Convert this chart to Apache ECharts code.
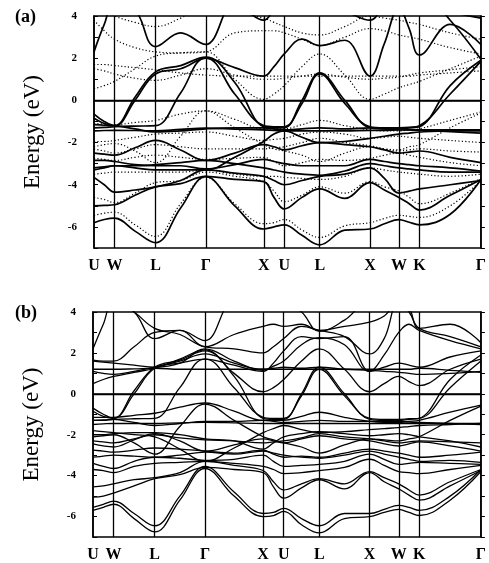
<!DOCTYPE html>
<html>
<head>
<meta charset="utf-8">
<script src="https://cdn.jsdelivr.net/npm/echarts@6.0.0/dist/echarts.min.js"></script>
<style>
  html, body { margin: 0; padding: 0; background: #fff; }
  #main { width: 489px; height: 563px; }
</style>
</head>
<body>
<div id="main"></div>
<script>
// high symmetry points along the k path
var kSym = [0, 0.354, 1.061, 1.927, 2.927, 3.281, 3.893, 4.759, 5.259, 5.613, 6.673];
var kNames = ['U', 'W', 'L', 'Γ', 'X', 'U', 'L', 'X', 'W', 'K', 'Γ'];
// sample points: every symmetry point plus the middle of each segment
var kGrid = [0, 0.177, 0.354, 0.707, 1.061, 1.494, 1.927, 2.427, 2.927, 3.104, 3.281,
             3.587, 3.893, 4.326, 4.759, 5.009, 5.259, 5.436, 5.613, 6.143, 6.673];
var yTicks = [-6, -4, -2, 0, 2, 4];

// (a) solid bands, energies (eV) at kGrid
var aSolid = [
  [-5.8, -5.65, -5.58, -6.2, -6.75, -5.1, -3.62, -5.0, -6.1, -6.0, -5.9, -6.4, -6.85, -6.15, -6.1, -5.85, -5.65, -5.78, -5.9, -5.4, -3.75],
  [-5.0, -4.98, -4.95, -4.5, -4.1, -3.95, -3.6, -3.75, -3.85, -4.6, -5.15, -4.6, -4.2, -4.65, -3.9, -4.25, -4.6, -4.9, -5.2, -4.5, -3.75],
  [-3.65, -4.0, -4.35, -4.25, -4.1, -3.8, -3.3, -3.45, -3.6, -3.8, -4.0, -3.8, -3.6, -3.5, -3.2, -3.7, -4.4, -4.3, -4.2, -4.0, -3.8],
  [-2.85, -2.85, -2.9, -3.05, -3.1, -3.1, -3.25, -3.05, -2.8, -2.9, -3.0, -3.1, -3.1, -3.1, -2.8, -2.9, -3.0, -3.05, -3.1, -3.2, -3.35],
  [-3.2, -3.15, -3.1, -3.1, -3.05, -2.95, -2.85, -3.0, -3.2, -3.3, -3.4, -3.5, -3.55, -3.35, -3.0, -3.1, -3.2, -3.25, -3.3, -3.4, -3.4],
  [-2.5, -2.55, -2.6, -2.25, -1.9, -2.35, -2.85, -2.5, -2.1, -2.2, -2.35, -2.15, -2.0, -2.1, -2.2, -2.35, -2.5, -2.45, -2.4, -2.7, -2.95],
  [-1.45, -1.43, -1.42, -1.43, -1.45, -1.38, -1.32, -1.36, -1.4, -1.42, -1.45, -1.45, -1.45, -1.45, -1.42, -1.42, -1.4, -1.4, -1.4, -1.4, -1.4],
  [-1.15, -1.18, -1.2, -1.35, -1.5, -1.45, -1.35, -1.3, -1.3, -1.35, -1.4, -1.35, -1.3, -1.35, -1.3, -1.35, -1.38, -1.4, -1.42, -1.48, -1.55],
  [-0.65, -1.0, -1.2, 0.15, 1.35, 1.65, 2.05, 0.85, -1.25, -1.3, -1.3, 0.0, 1.3, 0.0, -1.3, -1.35, -1.35, -1.3, -1.25, 0.7, 1.9],
  [-0.85, -1.1, -1.22, 0.0, 1.25, 1.5, 2.0, 0.3, -1.2, -1.25, -1.25, -0.15, 1.25, -0.15, -1.25, -1.3, -1.3, -1.28, -1.2, 0.3, 1.85],
  [-1.3, -1.28, -1.25, -1.22, -1.2, 0.35, 2.0, 1.55, 1.15, 1.6, 2.2, 2.9, 2.6, 2.85, 1.15, 2.7, 4.4, 3.4, 2.15, 3.6, 2.65],
  [2.3, 3.6, 4.6, 4.3, 2.55, 3.2, 2.65, 4.6, 3.8, 4.3, 4.8, 4.6, 4.3, 4.2, 3.8, 4.5, 4.8, 4.8, 4.6, 4.2, 3.9],
  [5, 5, 5, 5, 5, 5, 5, 5, 5, 5, 5, 5, 5, 5, 5, 5, 5, 5, 5.2, 3.8, 1.95],
  [-3.3, -3.2, -3.1, -3.2, -3.3, -3.3, -3.3, -2.7, -1.95, -1.6, -1.45, -1.75, -2.0, -1.95, -1.8, -1.7, -1.6, -1.55, -1.5, -1.45, -1.45]
];

// (a) dotted bands
var aDotted = [
  [-5.45, -5.35, -5.3, -5.9, -6.45, -4.9, -3.65, -4.9, -5.85, -5.8, -5.65, -6.15, -6.5, -5.95, -5.8, -5.6, -5.45, -5.5, -5.55, -5.0, -3.8],
  [-4.6, -4.7, -4.85, -4.4, -3.9, -3.8, -3.4, -3.6, -3.85, -4.3, -4.8, -4.5, -4.1, -4.4, -3.85, -4.1, -4.3, -4.6, -4.9, -4.4, -3.7],
  [-3.5, -3.45, -3.4, -3.4, -3.4, -3.4, -3.3, -3.5, -3.6, -3.6, -3.65, -3.7, -3.75, -3.6, -3.2, -3.3, -3.4, -3.45, -3.5, -3.6, -3.5],
  [-2.3, -2.4, -2.5, -2.3, -2.1, -2.2, -2.3, -2.3, -2.3, -2.25, -2.2, -2.0, -1.8, -2.0, -2.15, -2.3, -2.4, -2.35, -2.3, -2.4, -2.45],
  [-1.1, -1.12, -1.15, -1.05, -0.95, -0.65, -0.5, -0.9, -1.35, -1.35, -1.35, -1.15, -0.95, -1.2, -1.4, -1.45, -1.45, -1.4, -1.35, -0.95, -0.55],
  [-2.2, -2.1, -2.05, -2.4, -2.95, -1.7, -0.5, -1.3, -2.1, -2.3, -2.4, -2.6, -2.9, -2.5, -2.2, -2.3, -2.35, -2.2, -2.1, -1.3, -0.6],
  [1.7, 1.7, 1.65, 1.55, 1.45, 1.3, 1.2, 1.15, 1.15, 1.15, 1.15, 1.15, 1.15, 1.15, 1.15, 1.15, 1.15, 1.15, 1.2, 1.3, 1.4],
  [1.5, 1.4, 1.25, 1.05, 0.95, 1.2, 1.5, 1.2, 1.0, 1.0, 1.05, 1.15, 1.25, 1.1, 1.0, 1.05, 1.1, 1.2, 1.3, 1.45, 1.6],
  [0.55, 0.7, 0.9, 1.5, 2.1, 2.25, 2.3, 1.0, 0.05, 0.3, 0.7, 1.6, 2.2, 1.2, 0.05, 0.3, 0.6, 0.75, 0.9, 1.5, 2.1],
  [3.8, 3.3, 2.9, 2.5, 2.3, 2.25, 2.3, 3.2, 3.3, 3.3, 3.2, 2.9, 2.6, 3.0, 3.4, 3.3, 3.1, 3.0, 2.9, 2.5, 2.2],
  [4.5, 4.3, 4.0, 3.7, 3.5, 3.9, 4.5, 4.2, 3.9, 3.7, 3.5, 3.2, 3.1, 3.5, 4.0, 3.9, 3.8, 3.7, 3.6, 3.2, 2.9],
  [-1.95, -1.95, -1.9, -1.75, -1.6, -1.55, -1.5, -1.7, -1.9, -1.85, -1.8, -1.6, -1.5, -1.6, -1.8, -1.75, -1.7, -1.75, -1.8, -1.9, -2.0],
  [-2.75, -2.8, -2.85, -2.7, -2.6, -2.7, -2.8, -2.75, -2.7, -2.9, -3.1, -2.95, -2.8, -2.85, -2.75, -2.6, -2.5, -2.6, -2.7, -2.95, -3.1]
];

// (b) bands
var bBands = [
  [-5.7, -5.55, -5.4, -6.1, -6.75, -5.2, -3.65, -5.0, -6.0, -5.95, -5.75, -6.4, -6.8, -6.1, -6.0, -5.8, -5.65, -5.8, -5.95, -5.2, -3.8],
  [-5.55, -5.4, -5.25, -5.85, -6.45, -5.0, -3.55, -4.8, -5.85, -5.8, -5.6, -6.1, -6.45, -5.85, -5.85, -5.65, -5.45, -5.55, -5.7, -5.0, -3.7],
  [-5.05, -5.0, -4.85, -4.5, -4.15, -3.95, -3.6, -3.7, -3.85, -4.55, -5.1, -4.6, -4.2, -4.65, -3.85, -4.3, -4.65, -4.95, -5.2, -4.5, -3.75],
  [-4.55, -4.5, -4.4, -4.2, -4.1, -3.85, -3.3, -3.5, -3.75, -4.3, -4.7, -4.4, -4.15, -4.4, -3.8, -4.1, -4.4, -4.7, -4.95, -4.3, -3.7],
  [-3.7, -3.75, -3.85, -3.55, -3.4, -3.35, -3.3, -3.4, -3.55, -3.7, -3.9, -3.85, -3.75, -3.6, -3.2, -3.5, -3.8, -3.85, -3.9, -3.7, -3.5],
  [-3.4, -3.55, -3.65, -3.3, -3.1, -3.15, -3.25, -3.2, -3.0, -3.3, -3.55, -3.5, -3.45, -3.3, -2.95, -3.2, -3.45, -3.4, -3.35, -3.4, -3.45],
  [-3.1, -3.05, -3.0, -3.05, -3.1, -3.0, -2.85, -2.95, -2.8, -2.9, -3.0, -3.1, -3.15, -3.0, -2.8, -2.95, -3.1, -3.2, -3.3, -3.25, -3.35],
  [-2.75, -2.8, -2.85, -2.75, -2.65, -2.7, -2.8, -2.9, -2.75, -2.95, -3.1, -3.05, -3.1, -2.9, -2.7, -2.8, -2.9, -3.0, -3.1, -3.0, -2.85],
  [-2.45, -2.55, -2.6, -2.25, -1.95, -2.3, -2.8, -2.5, -2.2, -2.3, -2.4, -2.2, -2.05, -2.2, -2.3, -2.45, -2.55, -2.45, -2.35, -2.55, -2.8],
  [-2.3, -2.35, -2.4, -2.2, -2.0, -2.15, -2.25, -2.3, -2.4, -2.35, -2.3, -2.15, -1.95, -2.1, -2.2, -2.3, -2.4, -2.35, -2.3, -2.35, -2.4],
  [-2.0, -2.0, -1.95, -1.9, -1.9, -2.0, -2.2, -2.3, -2.7, -2.4, -2.1, -1.95, -1.85, -1.95, -2.05, -2.0, -1.95, -2.0, -2.1, -2.3, -2.6],
  [-1.8, -1.85, -1.9, -2.0, -2.1, -2.7, -3.3, -2.65, -1.9, -1.7, -1.55, -1.75, -1.9, -1.85, -1.75, -1.7, -1.65, -1.6, -1.55, -1.5, -1.45],
  [-1.5, -1.47, -1.45, -1.45, -1.45, -1.42, -1.4, -1.42, -1.45, -1.45, -1.45, -1.45, -1.45, -1.45, -1.45, -1.45, -1.45, -1.45, -1.45, -1.45, -1.45],
  [-1.3, -1.3, -1.25, -1.4, -1.55, -1.45, -1.35, -1.35, -1.3, -1.35, -1.4, -1.35, -1.3, -1.35, -1.35, -1.35, -1.35, -1.38, -1.4, -1.45, -1.5],
  [-1.15, -1.15, -1.15, -1.05, -0.95, -0.65, -0.45, -0.85, -1.3, -1.3, -1.3, -1.1, -0.9, -1.15, -1.35, -1.4, -1.4, -1.35, -1.3, -0.9, -0.55],
  [-2.1, -2.05, -2.0, -2.4, -2.95, -1.6, -0.5, -1.3, -2.1, -2.25, -2.4, -2.6, -2.9, -2.5, -2.2, -2.25, -2.3, -2.2, -2.1, -1.3, -0.6],
  [-0.7, -1.0, -1.2, 0.15, 1.3, 1.65, 2.1, 0.85, -1.2, -1.25, -1.25, 0.0, 1.3, 0.0, -1.25, -1.3, -1.3, -1.25, -1.2, 0.7, 1.9],
  [-0.85, -1.1, -1.2, 0.0, 1.25, 1.5, 1.7, 0.3, -1.15, -1.2, -1.2, -0.1, 1.2, -0.1, -1.2, -1.25, -1.25, -1.22, -1.2, 0.3, 1.6],
  [-1.3, -1.28, -1.25, -1.22, -1.2, 0.3, 1.7, 1.4, 1.1, 1.5, 2.1, 2.8, 2.7, 2.8, 1.1, 1.9, 3.0, 3.4, 3.1, 2.6, 2.2],
  [4.5, 4.6, 4.6, 4.0, 3.2, 2.9, 2.3, 2.2, 2.0, 2.3, 2.7, 3.3, 3.1, 2.8, 1.95, 2.7, 4.5, 4.2, 3.2, 3.4, 2.5],
  [1.6, 1.55, 1.5, 1.4, 1.3, 1.5, 2.2, 1.6, 1.15, 1.35, 1.6, 2.4, 2.75, 2.4, 1.1, 1.3, 1.5, 1.4, 1.3, 1.8, 2.1],
  [1.2, 1.2, 1.2, 1.22, 1.25, 1.2, 1.2, 1.2, 1.2, 1.2, 1.2, 1.2, 1.2, 1.2, 1.2, 1.2, 1.2, 1.2, 1.25, 1.15, 1.05],
  [0.5, 0.7, 0.85, 1.05, 1.25, 1.7, 2.15, 1.0, 0.1, 0.3, 0.7, 1.6, 2.2, 1.2, 0.1, 0.5, 0.85, 0.6, 0.4, 1.2, 1.7],
  [1.65, 1.6, 1.6, 2.3, 3.0, 3.1, 2.3, 2.9, 3.3, 3.4, 3.3, 3.4, 3.1, 3.3, 3.5, 3.8, 4.5, 4.0, 3.2, 2.8, 2.3],
  [2.2, 3.4, 4.5, 4.0, 2.7, 3.1, 2.6, 4.5, 4.5, 4.5, 4.5, 4.0, 3.05, 3.6, 4.5, 4.5, 4.5, 4.5, 4.5, 4.4, 4.3],
  [1.1, 1.0, 0.95, 1.1, 1.3, 1.6, 1.95, 1.5, 1.2, 1.25, 1.3, 1.25, 1.3, 1.2, 1.15, 1.1, 1.05, 1.0, 0.95, 1.0, 1.1]
];

var serif = 'Liberation Serif, Times New Roman, serif';

function kLabel(v) {
    for (var i = 0; i < kSym.length; i++) {
        if (Math.abs(kSym[i] - v) < 1e-6) return kNames[i];
    }
    return '';
}

function makeX(g) {
    return {
        type: 'value', gridIndex: g, min: 0, max: kSym[kSym.length - 1],
        axisLine: { show: true, lineStyle: { color: '#000', width: 1.5 } },
        axisTick: { show: false },
        splitLine: { show: false },
        axisLabel: {
            customValues: kSym, formatter: kLabel, margin: 10,
            fontFamily: serif, fontWeight: 'bold', fontSize: 16, color: '#000'
        }
    };
}

function makeY(g) {
    return [{
        type: 'value', gridIndex: g, min: -7, max: 4, interval: 1,
        name: 'Energy (eV)', nameLocation: 'middle', nameRotate: 90, nameGap: 50,
        nameTextStyle: { fontFamily: serif, fontSize: 23, color: '#000' },
        axisLine: { show: true, lineStyle: { color: '#000', width: 1.5 } },
        axisTick: { show: true, inside: true, length: 4, lineStyle: { color: '#000' } },
        splitLine: { show: false },
        axisLabel: {
            customValues: yTicks, margin: 17,
            fontFamily: serif, fontWeight: 'bold', fontSize: 11, color: '#000'
        }
    }, {
        type: 'value', gridIndex: g, min: -7, max: 4, interval: 1, position: 'right',
        axisLine: { show: true, lineStyle: { color: '#000', width: 1.5 } },
        axisTick: { show: true, inside: false, length: 4, lineStyle: { color: '#000' } },
        axisLabel: { show: false },
        splitLine: { show: false }
    }];
}

function band(vals, g, style) {
    var pts = [];
    for (var i = 0; i < kGrid.length; i++) pts.push([kGrid[i], vals[i]]);
    return {
        type: 'line', xAxisIndex: g, yAxisIndex: g * 2, data: pts,
        smooth: 0.4, symbol: 'none', silent: true, clip: true,
        lineStyle: style
    };
}

// vertical lines at symmetry points + Fermi level
function guides() {
    var d = [];
    for (var i = 1; i < kSym.length - 1; i++) d.push({ xAxis: kSym[i] });
    d.push({ yAxis: 0 });
    return {
        silent: true, symbol: 'none', label: { show: false },
        lineStyle: { color: '#000', width: 1.3, type: 'solid' },
        data: d
    };
}

var series = [];
aDotted.forEach(function (b) {
    series.push(band(b, 0, { color: '#000', width: 1.2, type: [1.2, 2.2] }));
});
aSolid.forEach(function (b) {
    series.push(band(b, 0, { color: '#000', width: 1.7 }));
});
bBands.forEach(function (b) {
    series.push(band(b, 1, { color: '#000', width: 1.3 }));
});
series[0].markLine = guides();
series[aDotted.length + aSolid.length].markLine = guides();

var chart = echarts.init(document.getElementById('main'));
chart.setOption({
    animation: false,
    backgroundColor: '#fff',
    title: [
        { text: '(a)', left: 10, top: 3, textStyle: { fontFamily: serif, fontWeight: 'bold', fontSize: 18, color: '#000' } },
        { text: '(b)', left: 10, top: 299, textStyle: { fontFamily: serif, fontWeight: 'bold', fontSize: 18, color: '#000' } }
    ],
    grid: [
        { left: 94, top: 16, width: 391, height: 232, show: true, borderColor: '#000', borderWidth: 1.5 },
        { left: 93, top: 312, width: 390, height: 229, show: true, borderColor: '#000', borderWidth: 1.5 }
    ],
    xAxis: [makeX(0), makeX(1)],
    yAxis: makeY(0).concat(makeY(1)),
    series: series
});
</script>
</body>
</html>
